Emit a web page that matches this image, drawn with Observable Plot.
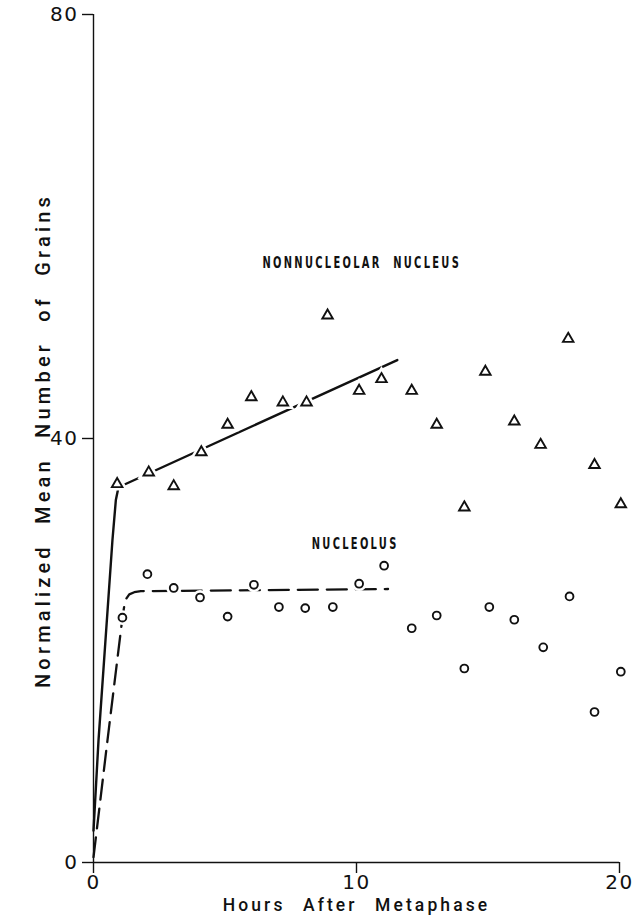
<!DOCTYPE html>
<html>
<head>
<meta charset="utf-8">
<script src="https://cdn.jsdelivr.net/npm/d3@7"></script>
<script src="https://cdn.jsdelivr.net/npm/@observablehq/plot@0.6"></script>
<style>
  html, body { margin: 0; padding: 0; background: #fff; }
  .ticknum text { font-family: "DejaVu Sans", sans-serif; letter-spacing: 1.5px; }
  .xlab text { font-family: Roboto, "Liberation Sans", Arial, sans-serif; font-weight: 500; letter-spacing: 3.1px; word-spacing: 10px; }
  .ylab text { font-family: Roboto, "Liberation Sans", Arial, sans-serif; font-weight: 500; letter-spacing: 4.2px; word-spacing: 10px; }
  .ann text { font-family: "DejaVu Sans", sans-serif; font-weight: bold; letter-spacing: 3.5px; }
</style>
</head>
<body>
<div id="chart"></div>
<script>
// Nonnucleolar nucleus (triangles)
const triX = [0.9, 2.1, 3.05, 4.1, 5.1, 6.0, 7.2, 8.1, 8.9, 10.1, 10.95, 12.1, 13.05, 14.1, 14.9, 16.0, 17.0, 18.05, 19.05, 20.05];
const triY = [35.7, 36.8, 35.5, 38.7, 41.3, 43.9, 43.4, 43.4, 51.6, 44.5, 45.6, 44.5, 41.3, 33.5, 46.3, 41.6, 39.4, 49.4, 37.5, 33.8];
// Nucleolus (circles)
const circX = [1.1, 2.05, 3.05, 4.05, 5.1, 6.1, 7.05, 8.05, 9.1, 10.1, 11.05, 12.1, 13.05, 14.1, 15.05, 16.0, 17.1, 18.1, 19.05, 20.05];
const circY = [23.1, 27.2, 25.9, 25.0, 23.2, 26.2, 24.1, 24.0, 24.1, 26.3, 28.0, 22.1, 23.3, 18.3, 24.1, 22.9, 20.3, 25.1, 14.2, 18.0];
// Fitted curves
const nonFitX = [0, 0.19, 0.72, 0.85, 0.95, 11.55];
const nonFitY = [3, 11.5, 30.4, 34.2, 35.4, 47.4];
const nucFitX = [0, 0.53, 1.1, 1.17, 1.25, 1.36, 1.55, 1.8, 11.2];
const nucFitY = [0.5, 11.5, 23.1, 24.2, 24.9, 25.3, 25.5, 25.6, 25.8];
// Axis ticks
const xTicks = [0, 10, 20];
const yTicks = [0, 40, 80];
const xLabel = "Hours After Metaphase";
const yLabel = "Normalized Mean Number of Grains";
const annX = [10.2, 9.95];
const annY = [56.6, 30.1];
const annText = ["NONNUCLEOLAR  NUCLEUS", "NUCLEOLUS"];

const tri = triX.map((x, i) => ({x, y: triY[i]}));
const circ = circX.map((x, i) => ({x, y: circY[i]}));
const nonFit = nonFitX.map((x, i) => ({x, y: nonFitY[i]}));
const nucFit = nucFitX.map((x, i) => ({x, y: nucFitY[i]}));
const annotations = annText.map((text, i) => ({x: annX[i], y: annY[i], text}));

const chart = Plot.plot({
  width: 635,
  height: 921,
  marginLeft: 93,
  marginRight: 16,
  marginTop: 14,
  marginBottom: 59,
  x: {domain: [0, 20]},
  y: {domain: [0, 80]},
  style: {background: "#fff", color: "#111"},
  marks: [
    Plot.line(nonFit, {x: "x", y: "y", stroke: "#111", strokeWidth: 2.4}),
    Plot.line(nucFit, {x: "x", y: "y", stroke: "#111", strokeWidth: 2.3, strokeDasharray: "20,9"}),
    Plot.dot(tri, {x: "x", y: "y", symbol: "triangle", r: 3.9, stroke: "#fff", strokeWidth: 7, fill: "#fff"}),
    Plot.dot(circ, {x: "x", y: "y", symbol: "circle", r: 3.9, stroke: "#fff", strokeWidth: 7, fill: "#fff"}),
    Plot.dot(tri, {x: "x", y: "y", symbol: "triangle", r: 3.9, stroke: "#111", strokeWidth: 1.9, fill: "#fff"}),
    Plot.dot(circ, {x: "x", y: "y", symbol: "circle", r: 3.9, stroke: "#111", strokeWidth: 1.9, fill: "#fff"}),
    Plot.ruleX([0], {y1: 0, y2: 80, stroke: "#111", strokeWidth: 1.4}),
    Plot.ruleY([0], {x1: 0, x2: 20, stroke: "#111", strokeWidth: 1.4}),
    Plot.axisY({ticks: yTicks, tickSize: 11, tickPadding: 4, fontSize: 20, label: null, className: "ticknum", strokeWidth: 1.4}),
    Plot.axisX({ticks: xTicks, tickSize: 11, tickPadding: 1, fontSize: 20, label: null, className: "ticknum", strokeWidth: 1.4}),
    Plot.text([xLabel], {text: d => d, frameAnchor: "bottom", textAnchor: "middle", dy: 48, fontSize: 17.5, fill: "#111", className: "xlab"}),
    Plot.text([yLabel], {text: d => d, frameAnchor: "left", textAnchor: "middle", rotate: -90, dx: -50, dy: 2, fontSize: 20, fill: "#111", className: "ylab"}),
    Plot.text(annotations, {x: "x", y: "y", text: "text", fontSize: 15, fill: "#111", className: "ann"})
  ]
});
// condense the annotation lettering horizontally, positioned through the plot's own scales
const sx = chart.scale("x"), sy = chart.scale("y");
d3.select(chart).selectAll(".ann text").each(function(_, i) {
  const d = annotations[i];
  const px = sx.apply(d.x), py = sy.apply(d.y);
  this.removeAttribute("x");
  this.removeAttribute("y");
  this.setAttribute("dy", "0.35em");
  this.setAttribute("transform", `translate(${px},${py}) scale(0.66,1)`);
});
document.getElementById("chart").appendChild(chart);
</script>
</body>
</html>
